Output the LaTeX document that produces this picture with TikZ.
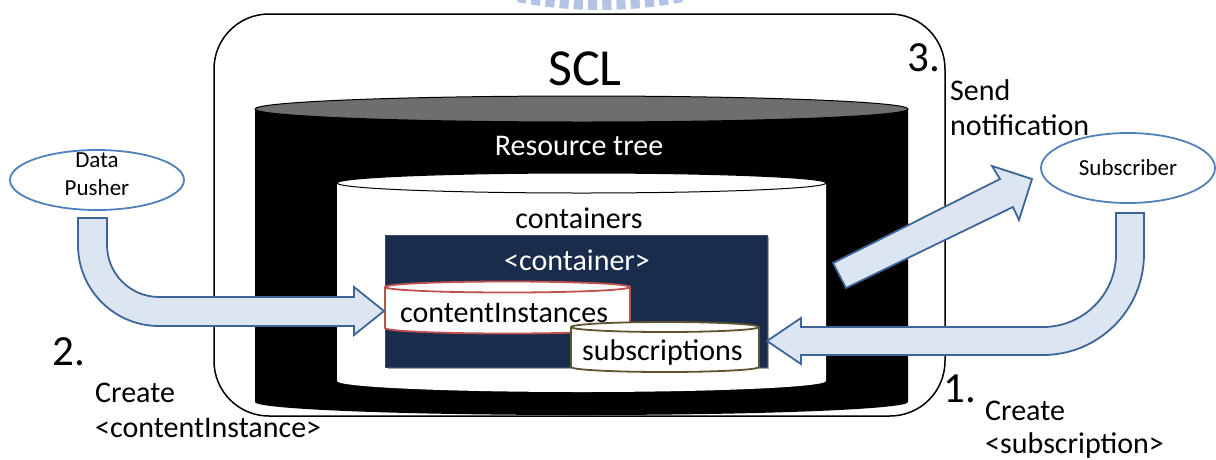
\documentclass[tikz,border=0pt]{standalone}
\usepackage{fontspec}
\setmainfont{Carlito}
\usetikzlibrary{shapes.geometric,calc}
\definecolor{navy}{HTML}{1A2C4B}
\definecolor{navyedge}{HTML}{34496B}
\definecolor{arrowfill}{HTML}{DCE6F2}
\definecolor{arrowline}{HTML}{3E6598}
\definecolor{ovalline}{HTML}{4F81BD}
\definecolor{redline}{HTML}{C0504D}
\definecolor{oliveline}{HTML}{5E5430}
\definecolor{wmblue}{HTML}{B2C3E4}
\definecolor{lidgray}{HTML}{6E6E6E}
\begin{document}
\begin{tikzpicture}[x=1pt,y=-1pt,
  blockarrow/.style={fill=arrowfill, draw=arrowline, line width=1.8pt, line join=miter},
  actor/.style={ellipse, draw=ovalline, line width=1.8pt, fill=white, inner sep=0pt},
  big/.style={font=\fontsize{30}{36.6}\selectfont, inner sep=0pt},
  small/.style={font=\fontsize{23}{28}\selectfont, inner sep=0pt},
  step number/.style={font=\fontsize{43}{50}\selectfont, inner sep=0pt},
]
\useasboundingbox (0,0) rectangle (1216,459);
\clip (0,0) rectangle (1216,459);

% faint logo stripes along the top edge
\draw[wmblue, line width=24pt, dash pattern=on 9pt off 5pt]
  (600,-425) ++(79:423) arc[start angle=79, end angle=101, radius=423];

% SCL frame
\draw[line width=1.5pt, rounded corners=55pt] (214,14) rectangle (945,416);
\node[font=\fontsize{52}{60}\selectfont, inner sep=0pt, anchor=base] (scl) at (585,85) {SCL};

% resource tree drum
\fill[black] (255,109) -- (255,402)
  arc[start angle=180, end angle=0, x radius=326.5, y radius=13] -- (908,109) -- cycle;
\filldraw[fill=lidgray, draw=black, line width=1pt] (581.5,109) ellipse [x radius=326.5, y radius=13];
\node[big, text=white, anchor=base] (tree) at (579,155) {Resource tree};

% containers drum
\fill[white] (337,183) -- (337,381)
  arc[start angle=180, end angle=0, x radius=244.5, y radius=11] -- (826,183) -- cycle;
\filldraw[fill=white, draw=black, line width=1pt] (581.5,183) ellipse [x radius=244.5, y radius=10];
\node[big, anchor=base] (containers) at (579,228) {containers};

% <container> block with a soft shadow
\fill[black!35] (388,237) rectangle (769,369);
\filldraw[fill=navy, draw=navyedge, line width=0.8pt] (385,235) rectangle (767,367);
\node[big, text=white, anchor=base] (container) at (577,270) {<container>};

% contentInstances drum
\filldraw[fill=white, draw=redline, line width=1.8pt] (385,287) -- (385,328)
  arc[start angle=180, end angle=0, x radius=122.5, y radius=5.5] -- (630,287)
  arc[start angle=0, end angle=-180, x radius=122.5, y radius=5.5] -- cycle;
\draw[redline, line width=1.8pt] (385,287) arc[start angle=180, end angle=0, x radius=122.5, y radius=5.5];
\node[big, anchor=base west] (ci) at (400,322) {contentInstances};
\coordinate (ciin) at (384,311);

% subscriptions drum
\filldraw[fill=white, draw=oliveline, line width=1.8pt] (571,327) -- (571,367)
  arc[start angle=180, end angle=0, x radius=94, y radius=5] -- (759,327)
  arc[start angle=0, end angle=-180, x radius=94, y radius=5] -- cycle;
\draw[oliveline, line width=1.8pt] (571,327) arc[start angle=180, end angle=0, x radius=94, y radius=5];
\node[big, anchor=base west] (subs) at (582,360) {subscriptions};
\coordinate (subsin) at (767,341);

% actors
\node[actor, minimum width=174pt, minimum height=60pt] (pusher) at (97,180) {};
\node[small, anchor=base] (pusherA) at (97,167) {Data};
\node[small, anchor=base] (pusherB) at (97,195) {Pusher};
\node[actor, minimum width=174pt, minimum height=70pt] (subscriber) at (1128,168) {};
\node[small, anchor=base] (subscriberT) at (1128,175) {Subscriber};

% step labels
\node[step number, anchor=base west] (n3) at (907,71) {3.};
\node[big, anchor=base west] (t3a) at (950,100) {Send};
\node[big, anchor=base west] (t3b) at (950,135) {notification};
\node[step number, anchor=base west] (n2) at (52,365) {2.};
\node[big, anchor=base west] (t2a) at (95,402) {Create};
\node[big, anchor=base west] (t2b) at (95,437) {<contentInstance>};
\node[step number, anchor=base west] (n1) at (943,402) {1.};
\node[big, anchor=base west] (t1a) at (985,420) {Create};
\node[big, anchor=base west] (t1b) at (985,453) {<subscription>};

% 2. pusher -> contentInstances
\filldraw[blockarrow] (78,218) -- (107,218) -- (107,245)
  arc[start angle=180, end angle=90, radius=52] -- (354,297) -- (354,287)
  -- (ciin) -- (354,335) -- (354,326) -- (159,326)
  arc[start angle=90, end angle=180, radius=81] -- cycle;

% 1. subscriber -> subscriptions
\filldraw[blockarrow] (1116,213) -- (1144,213) -- (1144,254)
  arc[start angle=0, end angle=90, radius=101] -- (801,355) -- (801,364)
  -- (subsin) -- (801,318) -- (801,327) -- (1043,327)
  arc[start angle=90, end angle=0, radius=73] -- cycle;

% 3. notification towards the subscriber
\filldraw[blockarrow] (833,263) -- (1000,179) -- (992,166) -- (1032,179)
  -- (1019,220) -- (1013,207) -- (846,288) -- cycle;
\end{tikzpicture}
\end{document}
